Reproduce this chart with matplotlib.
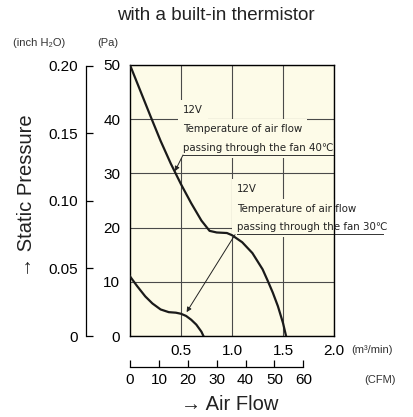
import matplotlib
matplotlib.use("Agg")
import matplotlib.pyplot as plt
from matplotlib import font_manager as fm

# ---------------- data ----------------
flow_40c = [0.0, 0.1, 0.2, 0.3, 0.4, 0.5, 0.6, 0.7, 0.78, 0.85, 0.95, 1.0,
            1.1, 1.2, 1.3, 1.35, 1.4, 1.45, 1.5, 1.53]
pres_40c = [50.0, 45.3, 40.6, 36.0, 31.8, 28.0, 24.5, 21.3, 19.4, 19.1, 19.0, 18.6,
            17.3, 15.3, 12.3, 10.2, 8.0, 5.5, 2.4, 0.0]

flow_30c = [0.0, 0.07, 0.15, 0.22, 0.30, 0.38, 0.45, 0.50, 0.55, 0.60, 0.65, 0.70, 0.72]
pres_30c = [11.0, 9.2, 7.3, 6.0, 4.9, 4.4, 4.3, 4.1, 3.7, 3.0, 2.1, 0.8, 0.0]

pa_ticks = [0, 10, 20, 30, 40, 50]
inch_ticks = [0, 0.05, 0.10, 0.15, 0.20]
inch_labels = ["0", "0.05", "0.10", "0.15", "0.20"]
m3_ticks = [0.5, 1.0, 1.5, 2.0]
m3_labels = ["0.5", "1.0", "1.5", "2.0"]
cfm_ticks = [0, 10, 20, 30, 40, 50, 60]

PA_PER_INCH = 249.089
M3_PER_CFM = 0.0283168
XMAX, YMAX = 2.0, 50.0

label_40 = ["12V", "Temperature of air flow", "passing through the fan 40\u2103"]
label_30 = ["12V", "Temperature of air flow", "passing through the fan 30\u2103"]

# ---------------- fonts ----------------
cond = None
for f in fm.fontManager.ttflist:
    nm = f.name.lower()
    if ("narrow" in nm or "condensed" in nm or str(f.stretch) in ("condensed", "semi-condensed")) \
            and f.style == "normal":
        cond = f.name
        break
NARROW = [cond, "DejaVu Sans"] if cond is not None else ["Liberation Sans", "DejaVu Sans"]
SANS = ["Liberation Sans", "DejaVu Sans"]
plt.rcParams["font.family"] = SANS

CREAM = "#fdfbe8"
W, H = 413, 417
fig = plt.figure(figsize=(W / 100, H / 100), dpi=100)
renderer = fig.canvas.get_renderer()

# fit annotation font size so that the long line is ~150 px wide (as in reference)
probe = fig.text(0, 0, label_30[2], fontsize=10, family=NARROW)
wpx = probe.get_window_extent(renderer).width
probe.remove()
ANN_FS = 10 * 150.0 / wpx

L, R, T, B = 130, 334, 65, 336
ax = fig.add_axes([L / W, 1 - B / H, (R - L) / W, (B - T) / H])
ax.set_facecolor(CREAM)
ax.set_xlim(0, XMAX)
ax.set_ylim(0, YMAX)
for s in ax.spines.values():
    s.set_linewidth(1.0)
    s.set_color("black")
    s.set_zorder(3)

ax.set_xticks(m3_ticks)
ax.set_xticklabels(m3_labels, fontsize=11)
ax.set_yticks(pa_ticks)
ax.set_yticklabels([str(v) for v in pa_ticks], fontsize=11)
ax.tick_params(axis="both", length=0, pad=7)
ax.tick_params(axis="x", pad=6)
ax.grid(True, color="#4a4a4a", linewidth=0.8)
ax.set_axisbelow(True)

ax.plot(flow_40c, pres_40c, color="#1a1a1a", lw=1.6, zorder=4)
ax.plot(flow_30c, pres_30c, color="#1a1a1a", lw=1.6, zorder=4)


def label_block(x, ys, lines, fs):
    for yv, txt in zip(ys, lines):
        ax.text(x, yv, txt, fontsize=fs, family=NARROW, color=(0, 0, 0, 0),
                va="baseline", ha="left", clip_on=True, zorder=2.5,
                bbox=dict(facecolor=CREAM, edgecolor="none", pad=3.5))
        ax.text(x, yv, txt, fontsize=fs, family=NARROW, color="#222222",
                va="baseline", ha="left", clip_on=False, zorder=5)


# 40C annotation
label_block(0.52, [41.2, 37.6, 34.2], label_40, ANN_FS)
ax.plot([0.52, XMAX], [33.4, 33.4], color="#333333", lw=0.7, zorder=3, clip_on=False)
ax.annotate("", xy=(0.44, 30.4), xytext=(0.52, 33.4),
            arrowprops=dict(arrowstyle="-|>", color="#222222", lw=0.7,
                            mutation_scale=7, shrinkA=0, shrinkB=0), zorder=5)

# 30C annotation
label_block(1.05, [26.6, 22.9, 19.6], label_30, ANN_FS)
ax.plot([1.05, 2.48], [18.8, 18.8], color="#333333", lw=0.7, zorder=3, clip_on=False)
ax.annotate("", xy=(0.555, 4.4), xytext=(1.03, 18.7),
            arrowprops=dict(arrowstyle="-|>", color="#222222", lw=0.7,
                            mutation_scale=7, shrinkA=0, shrinkB=0), zorder=5)

# inch H2O axis
IX = 86
axi = fig.add_axes([IX / W, 1 - B / H, 0.0001, (B - T) / H])
axi.set_ylim(0, YMAX / PA_PER_INCH)
axi.set_xticks([])
for k in ("top", "right", "bottom"):
    axi.spines[k].set_visible(False)
axi.spines["left"].set_bounds(0, 0.20)
axi.spines["left"].set_linewidth(0.9)
axi.set_yticks(inch_ticks)
axi.set_yticklabels(inch_labels, fontsize=11)
axi.tick_params(axis="y", direction="in", length=5, width=0.9, pad=6)
axi.patch.set_visible(False)

# CFM axis
CY = 367
axc = fig.add_axes([L / W, 1 - CY / H, (R - L) / W, 0.0001])
axc.set_xlim(0, XMAX / M3_PER_CFM)
axc.set_yticks([])
for k in ("top", "right", "left"):
    axc.spines[k].set_visible(False)
axc.spines["bottom"].set_bounds(0, 60)
axc.spines["bottom"].set_linewidth(0.9)
axc.set_xticks(cfm_ticks)
axc.set_xticklabels([str(v) for v in cfm_ticks], fontsize=11)
axc.tick_params(axis="x", direction="in", length=5, width=0.9, pad=4)
axc.patch.set_visible(False)

# texts
fig.text(216 / W, 1 - 16 / H, "with a built-in thermistor", fontsize=13.5,
         ha="center", va="center", color="#222222")
fig.text(13 / W, 1 - 43 / H, "(inch H\u2082O)", fontsize=8, ha="left", va="center", color="#333333")
fig.text(97 / W, 1 - 43 / H, "(Pa)", fontsize=8, ha="left", va="center", color="#333333")
fig.text(351 / W, 1 - 350 / H, "(m\u00b3/min)", fontsize=8, ha="left", va="center", color="#333333")
fig.text(380 / W, 1 - 380 / H, "(CFM)", fontsize=8, ha="center", va="center", color="#333333")
fig.text(26 / W, 1 - 196 / H, "\u2192 Static Pressure", fontsize=14.5, rotation=90,
         ha="center", va="center", color="#222222")
fig.text(230 / W, 1 - 404 / H, "\u2192 Air Flow", fontsize=14.5,
         ha="center", va="center", color="#222222")

fig.savefig("out.png", dpi=100, facecolor="white")
